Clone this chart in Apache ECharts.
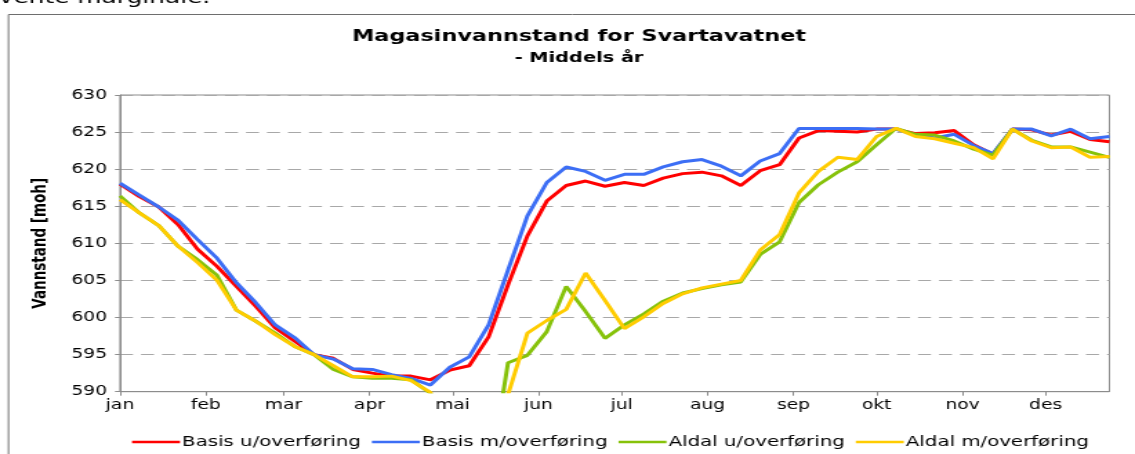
<!DOCTYPE html>
<html><head><meta charset="utf-8">
<script src="https://cdn.jsdelivr.net/npm/echarts@6/dist/echarts.min.js"></script>
<style>
html,body{margin:0;padding:0;background:#fff;overflow:hidden}
#wrap{width:1135px;height:454px;overflow:hidden;position:relative;background:#fff}
#chart{height:454px;transform-origin:0 0}
</style></head>
<body><div id="wrap"><div id="chart"></div></div>
<script>
// ---- data ----
const months = ['jan','feb','mar','apr','mai','jun','jul','aug','sep','okt','nov','des'];
const monthStartDays = [0,31,59,90,120,151,181,212,243,273,304,334];
const lastDay = 357;
const weekStep = 7;
const seriesNames = ['Basis u/overføring','Basis m/overføring','Aldal u/overføring','Aldal m/overføring'];
const basisUten = [618.0,616.3,614.9,612.5,609.2,606.9,604.2,601.5,598.6,596.8,595.0,594.5,593.0,592.5,592.1,592.1,591.6,592.9,593.5,597.4,604.4,611.0,615.7,617.8,618.4,617.7,618.2,617.8,618.8,619.4,619.6,619.1,617.8,619.8,620.6,624.2,625.2,625.1,625.0,625.4,625.4,624.8,624.9,625.2,623.3,622.0,625.4,625.3,624.6,625.1,624.0,623.7];
const basisMed = [618.1,616.5,614.9,613.1,610.5,608.0,604.7,602.0,599.0,597.3,595.0,594.4,593.1,593.0,592.3,591.8,590.9,593.3,594.7,599.0,606.4,613.7,618.2,620.3,619.7,618.5,619.3,619.3,620.3,621.0,621.3,620.4,619.1,621.1,622.1,625.5,625.5,625.5,625.5,625.4,625.4,624.6,624.2,624.7,623.2,622.1,625.4,625.4,624.5,625.4,624.1,624.4];
const aldalUten = [616.4,614.1,612.4,609.6,607.8,605.7,601.0,599.5,597.9,596.1,595.0,593.0,592.0,591.8,591.8,591.6,589.8,585.0,580.0,577.6,593.9,594.9,598.1,604.2,600.8,597.2,599.0,600.5,602.2,603.3,603.9,604.4,604.8,608.5,610.2,615.5,617.9,619.6,621.0,623.3,625.5,624.7,624.6,623.8,622.7,621.9,625.4,623.9,623.0,623.0,622.3,621.6];
const aldalMed = [615.9,614.1,612.4,609.6,607.4,605.0,601.0,599.5,597.7,596.1,595.0,593.5,592.0,592.0,592.1,591.5,589.9,585.0,580.0,578.0,589.6,597.9,599.6,601.1,606.0,602.3,598.5,600.1,601.9,603.2,604.0,604.5,605.0,609.1,611.2,616.8,619.7,621.6,621.3,624.4,625.5,624.4,624.1,623.5,622.9,621.4,625.4,623.8,622.9,623.0,621.6,621.7];
const yMin = 590, yMax = 630, yInterval = 5;
const colors = ['#ff0000','#3c6ef5','#86c20a','#ffcc00'];

// ---- layout (reference image is horizontally stretched) ----
const W = 822;
const S = 1135 / W;
const X = px => px / S;
const el = document.getElementById('chart');
el.style.width = W + 'px';
el.style.transform = 'scaleX(' + S + ')';

const days = [];
for (let d = 0; d <= lastDay; d++) days.push(String(d));
const isMonthStart = (i) => monthStartDays.indexOf(i) >= 0;
const toPairs = arr => arr.map((v, k) => [k * weekStep, v]);
const FONT = 'DejaVu Sans';

const chart = echarts.init(el, null, {renderer: 'canvas'});
chart.setOption({
  animation: false,
  color: colors,
  title: {
    text: 'Magasinvannstand for Svartavatnet',
    subtext: '- Middels år',
    left: X(579), top: 29, padding: 0, textAlign: 'center', itemGap: 6,
    textStyle: {fontFamily: FONT, fontWeight: 'bold', fontSize: 16.2, color: '#000'},
    subtextStyle: {fontFamily: FONT, fontWeight: 'bold', fontSize: 14, color: '#000'}
  },
  graphic: [
    {type: 'rect', shape: {x: X(8.5), y: 14.5, width: 2000, height: 1000}, style: {fill: 'none', stroke: '#6e6e6e', lineWidth: 1}, silent: true},
    {type: 'text', x: -1, y: -1.7, style: {text: 'vente marginale.', fontFamily: FONT, fontSize: 18, fill: '#000', verticalAlign: 'middle', textVerticalAlign: 'middle'}, silent: true}
  ],
  legend: {
    data: seriesNames,
    left: X(132), top: 435, padding: 0,
    icon: 'rect', itemWidth: X(48), itemHeight: 2.5, itemGap: X(11),
    textStyle: {fontFamily: FONT, fontSize: 14.3, color: '#000', padding: [0, 0, 0, -3.5]}
  },
  grid: {
    left: X(120), right: X(1135 - 1109.4), top: 95, bottom: 454 - 391.7,
    show: true, borderColor: '#8c8c8c', borderWidth: 1, containLabel: false
  },
  xAxis: {
    type: 'category', data: days, boundaryGap: false,
    axisLine: {lineStyle: {color: '#8c8c8c', width: 1}},
    axisTick: {show: true, interval: (i) => isMonthStart(i), length: 4, lineStyle: {color: '#8c8c8c'}},
    axisLabel: {interval: (i) => isMonthStart(i), formatter: (v) => months[monthStartDays.indexOf(Number(v))] || '',
      fontFamily: FONT, fontSize: 13.5, color: '#000', margin: 7},
    splitLine: {show: false}
  },
  yAxis: {
    type: 'value', min: yMin, max: yMax, interval: yInterval,
    name: 'Vannstand [moh]', nameLocation: 'middle', nameRotate: 90, nameGap: X(70),
    nameTextStyle: {fontFamily: FONT, fontWeight: 'bold', fontSize: 13.5, color: '#000'},
    axisLine: {show: true, lineStyle: {color: '#8c8c8c', width: 1}},
    axisTick: {show: true, length: X(5), lineStyle: {color: '#8c8c8c'}},
    axisLabel: {fontFamily: FONT, fontSize: 13.5, color: '#000', margin: X(13)},
    splitLine: {show: true, lineStyle: {color: '#a8a8a8', width: 1, type: [X(13), X(8)]}}
  },
  series: [
    {name: seriesNames[0], type: 'line', data: toPairs(basisUten)},
    {name: seriesNames[1], type: 'line', data: toPairs(basisMed)},
    {name: seriesNames[2], type: 'line', data: toPairs(aldalUten)},
    {name: seriesNames[3], type: 'line', data: toPairs(aldalMed)}
  ].map(s => Object.assign(s, {symbol: 'none', clip: true, lineStyle: {width: 3}}))
});
</script>
</body></html>
